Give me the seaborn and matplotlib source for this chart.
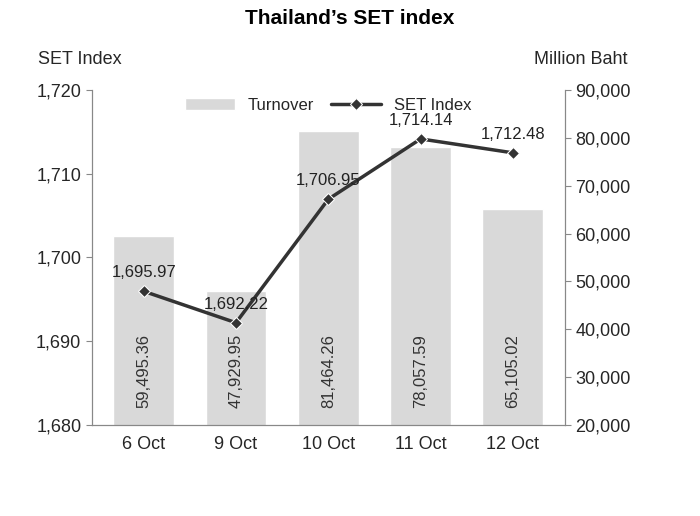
import matplotlib
matplotlib.use("Agg")
import matplotlib.pyplot as plt
import seaborn as sns
import pandas as pd

dates = ["6 Oct", "9 Oct", "10 Oct", "11 Oct", "12 Oct"]
turnover = [59495.36, 47929.95, 81464.26, 78057.59, 65105.02]
set_index = [1695.97, 1692.22, 1706.95, 1714.14, 1712.48]

df = pd.DataFrame({"date": dates, "turnover": turnover, "set": set_index})

sns.set_style("white")
plt.rcParams['font.family'] = ['Liberation Sans', 'DejaVu Sans']
fig = plt.figure(figsize=(7, 5.16), dpi=100)
ax2 = fig.add_axes([0.131, 0.176, 0.676, 0.65])  # bars, right axis
ax = ax2.twinx()
ax2.yaxis.tick_right(); ax2.yaxis.set_label_position("right")
ax.yaxis.tick_left(); ax.yaxis.set_label_position("left")

sns.barplot(data=df, x="date", y="turnover", ax=ax2, color="#d9d9d9", width=0.66,
            saturation=1, label="Turnover")
ax2.set_ylim(20000, 90000)
ax2.set_yticks(range(20000, 90001, 10000))
ax2.set_yticklabels([f"{v:,}" for v in range(20000, 90001, 10000)], fontsize=13)
for i, v in enumerate(turnover):
    ax2.text(i, 23500, f"{v:,.2f}", rotation=90, ha="center", va="bottom", fontsize=12, color="#333333")

sns.lineplot(data=df, x="date", y="set", ax=ax, color="#333333", marker="D", markersize=6,
             linewidth=2.5, label="SET Index", sort=False)
ax.set_ylim(1680, 1720)
ax.set_yticks(range(1680, 1721, 10))
ax.set_yticklabels([f"{v:,}" for v in range(1680, 1721, 10)], fontsize=13)
for i, v in enumerate(set_index):
    ax.text(i, v + 1.3, f"{v:,.2f}", ha="center", va="bottom", fontsize=12, color="#222222")

for a in (ax, ax2):
    a.set_xlabel(""); a.set_ylabel("")
    a.spines["top"].set_visible(False)
    for s in ("left", "right", "bottom"):
        a.spines[s].set_color("#888888")
    a.tick_params(length=4, color="#888888", direction="out")
ax2.set_xticks(range(5))
ax2.set_xticklabels(dates, fontsize=13)

h1, l1 = ax2.get_legend_handles_labels()
h2, l2 = ax.get_legend_handles_labels()
if ax2.get_legend(): ax2.get_legend().remove()
ax.legend(h1 + h2, ["Turnover", "SET Index"], loc="upper center", bbox_to_anchor=(0.5, 1.02),
          ncol=2, frameon=False, fontsize=12, handlelength=3, columnspacing=1.0)

fig.text(0.5, 0.965, "Thailand’s SET index", ha="center", va="center", fontsize=15,
         fontweight="bold", color="black")
fig.text(0.055, 0.885, "SET Index", ha="left", va="center", fontsize=13)
fig.text(0.83, 0.885, "Million Baht", ha="center", va="center", fontsize=13)

fig.savefig("out.png", dpi=100)
